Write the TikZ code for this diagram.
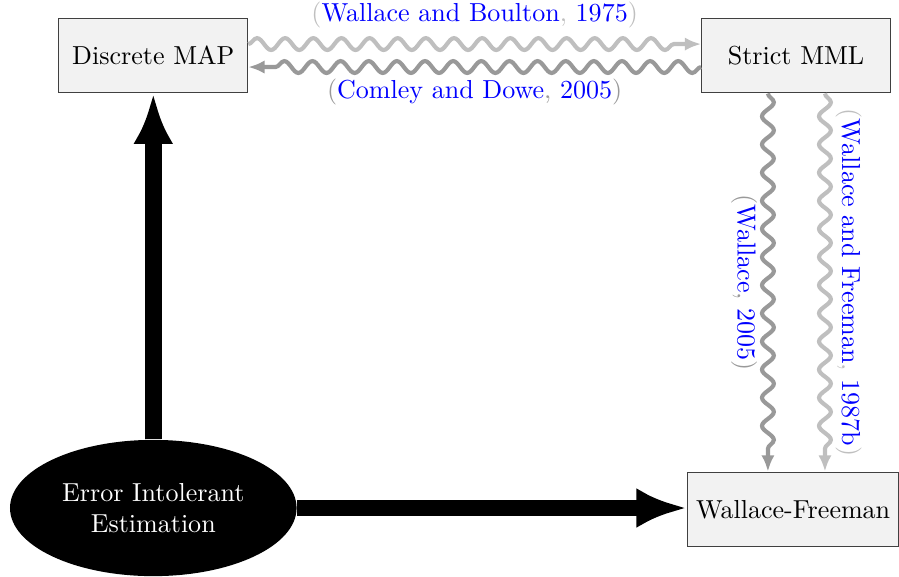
\documentclass[tikz,border=0pt]{standalone}
\usepackage{xcolor}
\usepackage{tikz}
\usetikzlibrary{shapes.geometric, arrows.meta, decorations.pathmorphing}

\newcommand{\bibref}[2]{(\textcolor{blue}{#1}, \textcolor{blue}{#2})}

\begin{document}
\begin{tikzpicture}[
		estbox/.style={draw=black!75, fill=gray!10, minimum width=2.55cm, minimum height=1.01cm},
		wiggle/.style={line width=1.6pt, decorate, decoration={snake, amplitude=0.08cm, segment length=0.38cm, post length=0.25cm}, -{Latex[length=2.2mm, width=1.8mm]}},
		fat/.style={line width=6.5pt, -{Latex[length=6.8mm, width=5.4mm]}}]
			\useasboundingbox (0,0) rectangle (12.14,-7.78);
			\node[estbox] at (2.07,-0.75) (dmap){Discrete MAP};
			\node[estbox] at (10.75,-0.75) (smml){Strict MML};
			\node[estbox] at (10.71,-6.88) (wf){Wallace-Freeman};
			\node[ellipse, fill=black, text=white, align=center, minimum width=3.87cm, minimum height=1.84cm, inner sep=0pt] at (2.07,-6.86) (eie){Error Intolerant\\Estimation};
			% thick arrows
			\draw[fat] (eie.north) -- (dmap.south);
			\draw[fat] (eie.east) -- (eie.east -| wf.west);
			% wavy arrows
			\draw[wiggle, gray!50] ([yshift=0.155cm]dmap.east) -- ([yshift=0.155cm]smml.west) node[midway, above=2pt, text=gray!50]{\bibref{Wallace and Boulton}{1975}};
			\draw[wiggle, gray!80] ([yshift=-0.155cm]smml.west) -- ([yshift=-0.155cm]dmap.east) node[midway, below=0.5pt, text=gray!80]{\bibref{Comley and Dowe}{2005}};
			\draw[wiggle, gray!80] ([xshift=-0.38cm]smml.south) -- ([xshift=-0.38cm]smml.south |- wf.north) node[midway, sloped, below, text=gray!80]{\bibref{Wallace}{2005}};
			\draw[wiggle, gray!50] ([xshift=0.39cm]smml.south) -- ([xshift=0.39cm]smml.south |- wf.north) node[midway, sloped, above, text=gray!50]{\bibref{Wallace and Freeman}{1987b}};
		\end{tikzpicture}
\end{document}
